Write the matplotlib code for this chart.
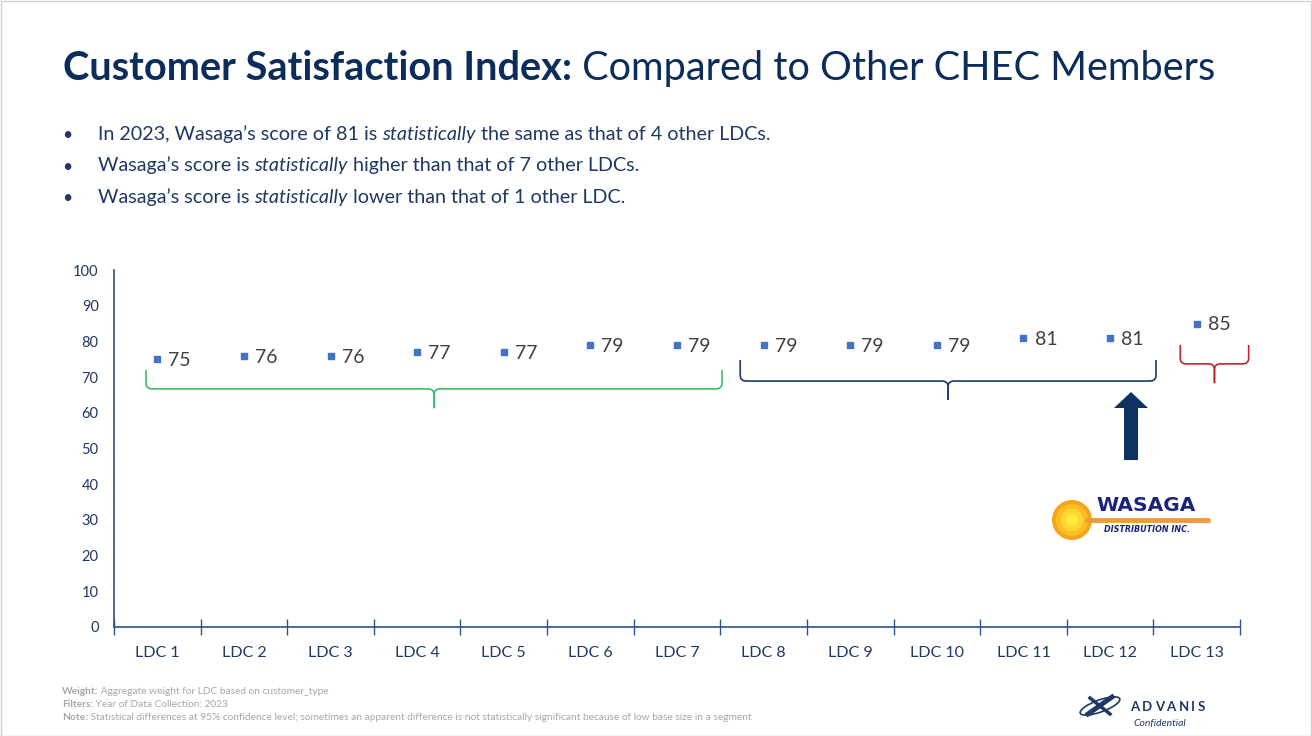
import numpy as np
import matplotlib
matplotlib.use("Agg")
import matplotlib.pyplot as plt
from matplotlib.path import Path
from matplotlib.patches import PathPatch, Circle, Ellipse, Polygon, Rectangle

plt.rcParams['font.family'] = ['Lato', 'DejaVu Sans']

ldcs = ["LDC 1", "LDC 2", "LDC 3", "LDC 4", "LDC 5", "LDC 6", "LDC 7",
        "LDC 8", "LDC 9", "LDC 10", "LDC 11", "LDC 12", "LDC 13"]
scores = [75, 76, 76, 77, 77, 79, 79, 79, 79, 79, 81, 81, 85]
yticks = [0, 10, 20, 30, 40, 50, 60, 70, 80, 90, 100]

# braces: (x start, x end, y top, y bar, y tip, colour) in data units
braces = [(-0.13, 6.52, 72.0, 66.7, 61.3, "#3DBE6E"),
          (6.73, 11.53, 74.8, 68.9, 63.6, "#1F3864"),
          (11.81, 12.60, 79.0, 73.7, 68.3, "#C0272D")]

navy = "#0B2D5B"
text_navy = "#1F3864"

fig = plt.figure(figsize=(13.12, 7.36), dpi=100)

# overlay in pixel coordinates for slide decorations
bg = fig.add_axes([0, 0, 1, 1], zorder=0)
bg.set_xlim(0, 1312)
bg.set_ylim(736, 0)
bg.axis("off")
bg.add_patch(Rectangle((0.5, 0.5), 1310, 735, fill=False, ec="#D0D0D0", lw=1))


def run(ax, x, y, pieces, size, color, **kw):
    """write text pieces one after another on one line"""
    prev = None
    for txt, weight, style in pieces:
        if prev is None:
            prev = ax.text(x, y, txt, fontsize=size, color=color, fontweight=weight,
                           fontstyle=style, va="baseline", ha="left", **kw)
        else:
            prev = ax.annotate(txt, xy=(1, 0), xycoords=prev, va="bottom", ha="left",
                               fontsize=size, color=color, fontweight=weight,
                               fontstyle=style, **kw)
    return prev


run(bg, 63, 80, [("Customer Satisfaction Index:", "bold", "normal"),
                 (" Compared to Other CHEC Members", "normal", "normal")], 28.6, navy)

bullets = [
    [("In 2023, Wasaga\u2019s score of 81 is ", "normal", "normal"),
     ("statistically", "normal", "italic"),
     (" the same as that of 4 other LDCs.", "normal", "normal")],
    [("Wasaga\u2019s score is ", "normal", "normal"),
     ("statistically", "normal", "italic"),
     (" higher than that of 7 other LDCs.", "normal", "normal")],
    [("Wasaga\u2019s score is ", "normal", "normal"),
     ("statistically", "normal", "italic"),
     (" lower than that of 1 other LDC.", "normal", "normal")],
]
for i, b in enumerate(bullets):
    yb = 140 + i * 31.5
    bg.text(62, yb, "\u2022", fontsize=12.5, color=text_navy, va="baseline")
    run(bg, 98, yb, b, 14.25, text_navy)

notes = [
    [("Weight:", "bold", "normal"), (" Aggregate weight for LDC based on customer_type", "normal", "normal")],
    [("Filters:", "bold", "normal"), (" Year of Data Collection: 2023", "normal", "normal")],
    [("Note:", "bold", "normal"), (" Statistical differences at 95% confidence level; sometimes an apparent "
                                   "difference is not statistically significant because of low base size in a segment",
                                   "normal", "normal")],
]
for i, n in enumerate(notes):
    run(bg, 62, 694 + i * 13, n, 7.25, "#A6A6A6")

# arrow pointing at Wasaga
bg.add_patch(Polygon([(1124, 460), (1138, 460), (1138, 408), (1148, 408), (1131, 392),
                      (1114, 408), (1124, 408)], closed=True, fc="#0B3260", ec="none"))

# Wasaga logo
for r, c in [(20, "#F7A41D"), (16, "#FBBF22"), (11, "#FDD835"), (6, "#FFEB3B")]:
    bg.add_patch(Circle((1072, 520), r, fc=c, ec="none"))
bg.plot([1085, 1210], [520, 520], color="#F29A3A", lw=3.5, solid_capstyle="butt")
bg.text(1146, 511, "WASAGA", fontsize=14.5, fontweight="black", color="#1A237E",
        ha="center", va="baseline", family="DejaVu Sans")
bg.text(1147, 532, "DISTRIBUTION INC.", fontsize=5.8, fontweight="bold", fontstyle="italic",
        color="#1A237E", ha="center", va="baseline", family="DejaVu Sans")

# Advanis logo
bg.add_patch(Ellipse((1100, 706), 42, 12, angle=-20, fill=False, ec="#1F3864", lw=1.2))
bg.plot([1088, 1112], [714, 697], color="#1F3864", lw=3.5)
bg.plot([1090, 1110], [698, 714], color="#1F3864", lw=2.5)
prev = bg.text(1130, 711, "A", fontsize=9.5, fontweight="bold", color="#1F3864",
               va="baseline", ha="left")
for ch in "DVANIS":
    prev = bg.annotate(ch, xy=(1, 0), xycoords=prev, xytext=(1.9, 0), textcoords="offset points",
                       fontsize=9.5, fontweight="bold", color="#1F3864", va="bottom", ha="left")
bg.text(1133, 726, "Confidential", fontsize=7.5, fontstyle="italic", color="#1F3864", va="baseline")

# main chart
ax = fig.add_axes([114 / 1312, 1 - 627 / 736, (1240 - 114) / 1312, (627 - 270) / 736], zorder=1)
ax.patch.set_alpha(0)
x = np.arange(len(ldcs))
ax.scatter(x, scores, marker="s", s=22, color="#4472C4", zorder=3, clip_on=False)
for xi, v in zip(x, scores):
    ax.annotate(str(v), (xi, v), xytext=(8, -1), textcoords="offset points",
                fontsize=14, color="#404040", va="center", ha="left")

ax.set_xlim(-0.5, len(ldcs) - 0.5)
ax.set_ylim(0, 100)
ax.set_yticks(yticks)
ax.set_xticks(x)
ax.set_xticklabels(ldcs)
ax.set_xticks(np.arange(-0.5, len(ldcs)), minor=True)
ax.tick_params(axis="x", which="major", length=0, pad=14, labelsize=11.5, labelcolor=text_navy)
ax.tick_params(axis="x", which="minor", length=12, direction="inout", color="#2E528F", width=1)
ax.tick_params(axis="y", length=0, pad=11, labelsize=10.5, labelcolor=text_navy)
for s in ["top", "right"]:
    ax.spines[s].set_visible(False)
for s in ["left", "bottom"]:
    ax.spines[s].set_color("#2E528F")
    ax.spines[s].set_linewidth(1.2)


def brace(ax, x0, x1, ytop, ybar, ytip, color):
    rx, ry = 0.07, 1.6
    xc = (x0 + x1) / 2
    for a, sgn in [(x0, 1), (x1, -1)]:
        verts = [(a, ytop), (a, ybar + ry), (a, ybar), (a + sgn * rx, ybar),
                 (xc - sgn * rx, ybar), (xc, ybar), (xc, ybar - ry), (xc, ytip)]
        codes = [Path.MOVETO, Path.LINETO, Path.CURVE3, Path.CURVE3,
                 Path.LINETO, Path.CURVE3, Path.CURVE3, Path.LINETO]
        ax.add_patch(PathPatch(Path(verts, codes), fill=False, ec=color, lw=1.2, clip_on=False))


for b in braces:
    brace(ax, *b)

fig.savefig("out.png", dpi=100)
